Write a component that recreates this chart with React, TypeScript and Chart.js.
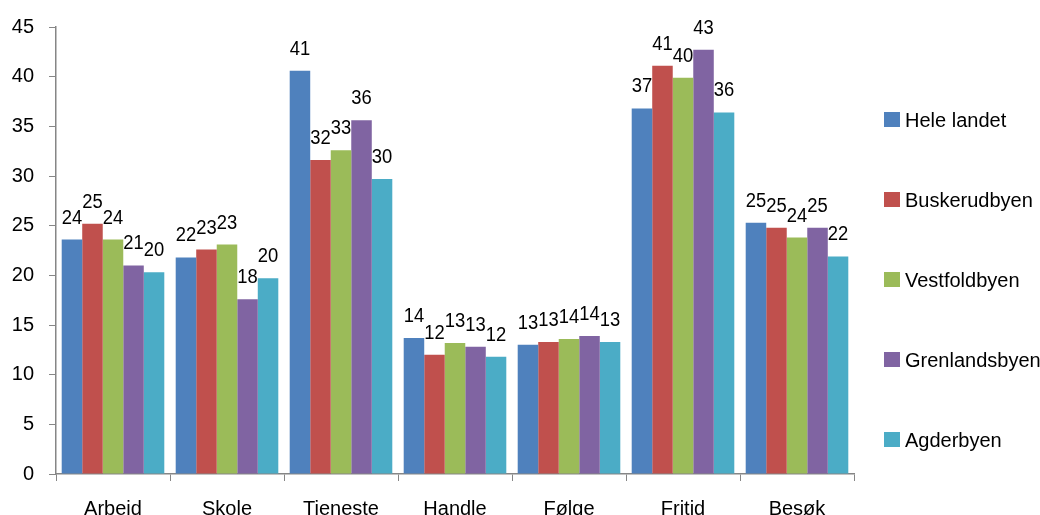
import React, { useEffect, useRef } from "react";
import { Chart, registerables } from "chart.js";

Chart.register(...registerables);

const categories = ["Arbeid", "Skole", "Tieneste", "Handle", "Følge", "Fritid", "Besøk"];
const seriesNames = ["Hele landet", "Buskerudbyen", "Vestfoldbyen", "Grenlandsbyen", "Agderbyen"];
const heleLandet = [23.6, 21.8, 40.6, 13.7, 13.0, 36.8, 25.3];
const buskerudbyen = [25.2, 22.6, 31.6, 12.0, 13.3, 41.1, 24.8];
const vestfoldbyen = [23.6, 23.1, 32.6, 13.2, 13.6, 39.9, 23.8];
const grenlandsbyen = [21.0, 17.6, 35.6, 12.8, 13.9, 42.7, 24.8];
const agderbyen = [20.3, 19.7, 29.7, 11.8, 13.3, 36.4, 21.9];
const colors = ["#4F81BD", "#C0504D", "#9BBB59", "#8064A2", "#4BACC6"];
const yTicks = [0, 5, 10, 15, 20, 25, 30, 35, 40, 45];

const FONT = "'Liberation Sans', Arial, sans-serif";

const dataLabels = {
  id: "dataLabels",
  afterDatasetsDraw(chart: any) {
    const ctx = chart.ctx;
    ctx.save();
    ctx.font = `20px ${FONT}`;
    ctx.fillStyle = "#000";
    ctx.textAlign = "center";
    ctx.textBaseline = "alphabetic";
    chart.data.datasets.forEach((ds: any, di: number) => {
      const meta = chart.getDatasetMeta(di);
      meta.data.forEach((el: any, i: number) => {
        ctx.save();
        ctx.translate(el.x, el.y - 16);
        ctx.scale(0.92, 1);
        ctx.fillText(String(Math.round(ds.data[i])), 0, 0);
        ctx.restore();
      });
    });
    ctx.restore();
  },
};

const customLegend = {
  id: "customLegend",
  afterDraw(chart: any) {
    const ctx = chart.ctx;
    ctx.save();
    ctx.font = `20px ${FONT}`;
    ctx.textAlign = "left";
    ctx.textBaseline = "middle";
    chart.data.datasets.forEach((ds: any, i: number) => {
      const cy = 120 + i * 80;
      ctx.fillStyle = ds.backgroundColor;
      ctx.fillRect(884, cy - 8, 16, 15);
      ctx.fillStyle = "#000";
      ctx.fillText(ds.label, 905, cy + 1);
    });
    ctx.restore();
  },
};

export default function App() {
  const ref = useRef<HTMLCanvasElement>(null);
  useEffect(() => {
    document.body.style.margin = "0";
    const all = [heleLandet, buskerudbyen, vestfoldbyen, grenlandsbyen, agderbyen];
    const chart = new Chart(ref.current!, {
      type: "bar",
      data: {
        labels: categories,
        datasets: all.map((d, i) => ({
          label: seriesNames[i],
          data: d,
          backgroundColor: colors[i],
          borderWidth: 0,
          categoryPercentage: 0.9,
          barPercentage: 1.0,
        })),
      },
      options: {
        animation: false,
        responsive: false,
        maintainAspectRatio: false,
        layout: { padding: { top: 24, right: 186, left: 0, bottom: 0 } },
        plugins: { legend: { display: false }, tooltip: { enabled: false } },
        scales: {
          x: {
            afterFit(scale: any) {
              scale.height = 41;
            },
            grid: {
              offset: true,
              drawOnChartArea: false,
              drawTicks: true,
              tickLength: 7,
              color: "#868686",
            },
            border: { color: "#868686", width: 1.5 },
            ticks: { color: "#000", font: { size: 20, family: FONT }, padding: 16, maxRotation: 0 },
          },
          y: {
            min: 0,
            max: 45,
            afterFit(scale: any) {
              scale.width = 56;
            },
            afterBuildTicks(scale: any) {
              scale.ticks = yTicks.map((v) => ({ value: v }));
            },
            grid: {
              drawOnChartArea: false,
              drawTicks: true,
              tickLength: 7,
              color: "#868686",
            },
            border: { color: "#868686", width: 1.5 },
            ticks: { color: "#000", font: { size: 20, family: FONT }, padding: 15 },
          },
        },
      },
      plugins: [dataLabels, customLegend],
    });
    return () => chart.destroy();
  }, []);
  return <canvas ref={ref} width={1040} height={515} style={{ display: "block" }} />;
}
